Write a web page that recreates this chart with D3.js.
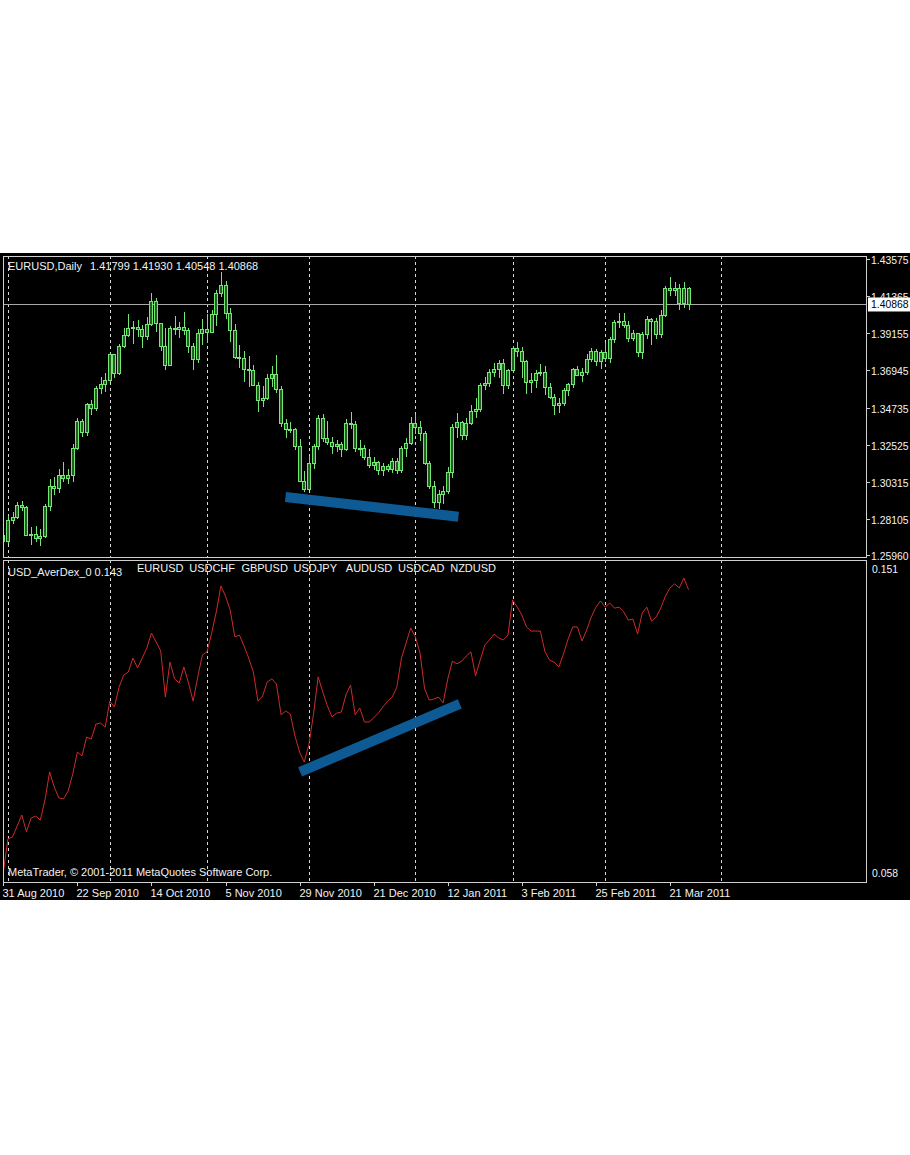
<!DOCTYPE html>
<html><head><meta charset="utf-8">
<script src="https://cdn.jsdelivr.net/npm/d3@7"></script>
<style>
body{margin:0;background:#fff}
svg{display:block}
text{font-family:"Liberation Sans",Arial,sans-serif;font-size:11px;fill:#f2f2f2}
text.ax{font-size:10.4px}
</style>
</head><body>
<svg id="c" width="910" height="1155"></svg>
<script>
// ---------- DATA ----------
const symbolTitle = "EURUSD,Daily";
const lastBarText = "1.41799 1.41930 1.40548 1.40868";
const indicatorTitle = "USD_AverDex_0 0.143";
const indicatorSymbols = ["EURUSD","USDCHF","GBPUSD","USDJPY","AUDUSD","USDCAD","NZDUSD"];
const copyright = "MetaTrader, © 2001-2011 MetaQuotes Software Corp.";

const xTickLabels = ["31 Aug 2010","22 Sep 2010","14 Oct 2010","5 Nov 2010","29 Nov 2010","21 Dec 2010","12 Jan 2011","3 Feb 2011","25 Feb 2011","21 Mar 2011"];
const xTickBars = [0,16,32,48,64,80,96,112,128,144];
const gridBars = [1,23,44,66,89,110,130,155];   // month separators (bar positions)
const priceTicks = [1.43575,1.41365,1.39155,1.36945,1.34735,1.32525,1.30315,1.28105,1.25960];
const priceRange = [1.25960,1.43575];
const indicatorRange = [0.058,0.151];
const lastPrice = 1.40868;

const open = [1.2712,1.2676,1.2801,1.2822,1.2890,1.2880,1.2715,1.2719,1.2692,1.2708,
1.2887,1.3004,1.2994,1.3071,1.3050,1.3067,1.3232,1.3389,1.3327,1.3490,
1.3469,1.3584,1.3612,1.3633,1.3789,1.3676,1.3837,1.3901,1.3946,1.3952,
1.3935,1.3899,1.3970,1.4105,1.3972,1.3838,1.3724,1.3942,1.3936,1.3949,
1.3934,1.3836,1.3757,1.3914,1.3939,1.3923,1.4030,1.4152,1.4202,1.4035,
1.3932,1.3773,1.3766,1.3700,1.3696,1.3605,1.3513,1.3525,1.3644,1.3668,
1.3579,1.3378,1.3345,1.3343,1.3239,1.3034,1.2987,1.3140,1.3240,1.3410,
1.3290,1.3265,1.3240,1.3252,1.3225,1.3377,1.3373,1.3227,1.3229,1.3179,
1.3130,1.3148,1.3098,1.3123,1.3103,1.3155,1.3100,1.3232,1.3262,1.3380,
1.3355,1.3317,1.3138,1.3002,1.2907,1.2959,1.2971,1.3089,1.3357,1.3382,
1.3307,1.3380,1.3448,1.3461,1.3606,1.3618,1.3683,1.3701,1.3733,1.3602,
1.3695,1.3826,1.3810,1.3745,1.3620,1.3637,1.3678,1.3680,1.3590,1.3535,
1.3488,1.3500,1.3574,1.3610,1.3701,1.3667,1.3683,1.3757,1.3805,1.3749,
1.3802,1.3765,1.3881,1.3979,1.3987,1.3964,1.3887,1.3912,1.3799,1.3908,
1.3997,1.3985,1.3906,1.4023,1.4182,1.4172,1.4181,1.4090,1.41799];
const high = [1.2750,1.2829,1.2853,1.2913,1.2918,1.2890,1.2760,1.2770,1.2750,1.2902,
1.3049,1.3062,1.3105,1.3147,1.3110,1.3256,1.3414,1.3406,1.3501,1.3519,
1.3604,1.3656,1.3680,1.3796,1.3795,1.3849,1.3945,1.4030,1.3987,1.3994,
1.3966,1.4015,1.4157,1.4126,1.3976,1.3945,1.3959,1.4018,1.3980,1.4045,
1.3947,1.3860,1.3938,1.3998,1.4031,1.4052,1.4174,1.4282,1.4229,1.4068,
1.3972,1.3845,1.3808,1.3782,1.3726,1.3625,1.3599,1.3674,1.3720,1.3785,
1.3604,1.3405,1.3388,1.3354,1.3287,1.3097,1.3185,1.3258,1.3432,1.3436,
1.3395,1.3300,1.3282,1.3268,1.3403,1.3448,1.3395,1.3283,1.3250,1.3224,
1.3178,1.3156,1.3141,1.3138,1.3172,1.3176,1.3245,1.3290,1.3419,1.3433,
1.3395,1.3336,1.3156,1.3034,1.2985,1.3005,1.3117,1.3375,1.3439,1.3395,
1.3413,1.3490,1.3530,1.3620,1.3655,1.3702,1.3740,1.3759,1.3760,1.3703,
1.3840,1.3862,1.3833,1.3758,1.3680,1.3695,1.3735,1.3720,1.3620,1.3552,
1.3530,1.3590,1.3620,1.3710,1.3720,1.3708,1.3790,1.3825,1.3819,1.3814,
1.3862,1.3892,1.3995,1.4035,1.4037,1.3990,1.3935,1.3917,1.3922,1.4016,
1.4008,1.4007,1.4052,1.4196,1.4249,1.4219,1.4207,1.4220,1.41930];
const low = [1.2659,1.2664,1.2780,1.2810,1.2856,1.2707,1.2656,1.2675,1.2647,1.2700,
1.2858,1.2954,1.2966,1.3031,1.3016,1.3033,1.3220,1.3296,1.3302,1.3431,
1.3452,1.3553,1.3567,1.3627,1.3652,1.3665,1.3826,1.3891,1.3850,1.3896,
1.3829,1.3875,1.3959,1.3925,1.3810,1.3698,1.3718,1.3903,1.3886,1.3905,
1.3798,1.3697,1.3740,1.3844,1.3860,1.3917,1.3961,1.4131,1.4001,1.3862,
1.3760,1.3707,1.3624,1.3597,1.3600,1.3446,1.3478,1.3520,1.3595,1.3563,
1.3360,1.3292,1.3320,1.3223,1.3031,1.2969,1.2985,1.3110,1.3223,1.3270,
1.3250,1.3200,1.3210,1.3180,1.3215,1.3344,1.3210,1.3186,1.3163,1.3114,
1.3100,1.3070,1.3069,1.3087,1.3082,1.3080,1.3085,1.3180,1.3250,1.3317,
1.3275,1.3129,1.2988,1.2873,1.2867,1.2900,1.2957,1.3052,1.3293,1.3280,
1.3279,1.3370,1.3410,1.3445,1.3580,1.3597,1.3653,1.3650,1.3555,1.3584,
1.3680,1.3776,1.3648,1.3555,1.3560,1.3590,1.3660,1.3546,1.3525,1.3430,
1.3440,1.3482,1.3540,1.3590,1.3660,1.3625,1.3665,1.3743,1.3720,1.3700,
1.3745,1.3740,1.3860,1.3945,1.3945,1.3862,1.3867,1.3772,1.3760,1.3883,
1.3845,1.3880,1.3890,1.4010,1.4140,1.4140,1.4055,1.4068,1.40548];
const close = [1.2676,1.2801,1.2822,1.2890,1.2880,1.2715,1.2719,1.2692,1.2708,1.2887,
1.3004,1.2994,1.3071,1.3050,1.3067,1.3232,1.3389,1.3327,1.3490,1.3469,
1.3584,1.3612,1.3633,1.3789,1.3676,1.3837,1.3901,1.3946,1.3952,1.3935,
1.3899,1.3970,1.4105,1.3972,1.3838,1.3724,1.3942,1.3936,1.3949,1.3934,
1.3836,1.3757,1.3914,1.3939,1.3923,1.4030,1.4152,1.4202,1.4035,1.3932,
1.3773,1.3766,1.3700,1.3696,1.3605,1.3513,1.3525,1.3644,1.3668,1.3579,
1.3378,1.3345,1.3343,1.3239,1.3034,1.2987,1.3140,1.3240,1.3410,1.3290,
1.3265,1.3240,1.3252,1.3225,1.3377,1.3373,1.3227,1.3229,1.3179,1.3130,
1.3148,1.3098,1.3123,1.3103,1.3155,1.3100,1.3232,1.3262,1.3380,1.3355,
1.3317,1.3138,1.3002,1.2907,1.2959,1.2971,1.3089,1.3357,1.3382,1.3307,
1.3380,1.3448,1.3461,1.3606,1.3618,1.3683,1.3701,1.3733,1.3602,1.3695,
1.3826,1.3810,1.3745,1.3620,1.3637,1.3678,1.3680,1.3590,1.3535,1.3488,
1.3500,1.3574,1.3610,1.3701,1.3667,1.3683,1.3757,1.3805,1.3749,1.3802,
1.3765,1.3881,1.3979,1.3987,1.3964,1.3887,1.3912,1.3799,1.3908,1.3997,
1.3985,1.3906,1.4023,1.4182,1.4172,1.4181,1.4090,1.4180,1.40868];
const averDex = [0.0606,0.0703,0.0709,0.0741,0.0773,0.0724,0.0764,0.0770,0.0758,0.0817,
0.0899,0.0855,0.0823,0.0820,0.0843,0.0893,0.0957,0.0946,0.1001,0.0995,
0.1039,0.1042,0.1030,0.1106,0.1089,0.1147,0.1182,0.1191,0.1232,0.1203,
0.1232,0.1261,0.1305,0.1279,0.1253,0.1118,0.1220,0.1171,0.1159,0.1206,
0.1159,0.1106,0.1177,0.1241,0.1250,0.1305,0.1367,0.1443,0.1413,0.1373,
0.1294,0.1299,0.1267,0.1232,0.1191,0.1106,0.1121,0.1162,0.1171,0.1156,
0.1066,0.1077,0.1068,0.1004,0.0957,0.0928,0.0978,0.1068,0.1177,0.1133,
0.1092,0.1060,0.1071,0.1074,0.1124,0.1153,0.1066,0.1086,0.1045,0.1045,
0.1057,0.1071,0.1089,0.1106,0.1118,0.1147,0.1232,0.1276,0.1320,0.1294,
0.1247,0.1142,0.1109,0.1112,0.1118,0.1101,0.1171,0.1223,0.1215,0.1223,
0.1238,0.1250,0.1180,0.1226,0.1270,0.1285,0.1302,0.1291,0.1285,0.1299,
0.1402,0.1381,0.1358,0.1323,0.1311,0.1311,0.1311,0.1250,0.1226,0.1220,
0.1206,0.1244,0.1288,0.1323,0.1323,0.1282,0.1314,0.1352,0.1381,0.1399,
0.1381,0.1393,0.1378,0.1381,0.1367,0.1343,0.1346,0.1302,0.1364,0.1381,
0.1340,0.1352,0.1378,0.1413,0.1437,0.1449,0.1437,0.1466,0.1432];
// hand-drawn trend annotations (bar position, value)
const trendPrice = [[60.95,1.2941],[98.3,1.2824]];
const trendIndicator = [[64.1,0.0899],[98.6,0.1098]];

// ---------- LAYOUT ----------
const L = 3, R = 866, T1 = 256, B1 = 557, T2 = 560, B2 = 882;
const svg = d3.select("#c");
svg.append("rect").attr("x",0).attr("y",253).attr("width",910).attr("height",647).attr("fill","#000");

const x = d3.scaleLinear().domain([0,144]).range([3.3,670]);
const yP = d3.scaleLinear().domain(priceRange).range([555,259]);
const yI = d3.scaleLinear().domain(indicatorRange).range([881,563]);

const defs = svg.append("defs");
defs.append("clipPath").attr("id","cp1").append("rect").attr("x",L).attr("y",T1).attr("width",R-L).attr("height",B1-T1);
defs.append("clipPath").attr("id","cp2").append("rect").attr("x",L).attr("y",T2).attr("width",R-L).attr("height",B2-T2);

// grid
const grid = svg.append("g").attr("stroke","#d8d8d8").attr("stroke-dasharray","3,3").attr("shape-rendering","crispEdges");
gridBars.forEach(b=>{
  const gx = Math.round(x(b))+0.5;
  grid.append("line").attr("x1",gx).attr("x2",gx).attr("y1",T1).attr("y2",B1);
  grid.append("line").attr("x1",gx).attr("x2",gx).attr("y1",T2).attr("y2",B2);
});

// current price line
svg.append("line").attr("x1",L).attr("x2",R).attr("y1",Math.round(yP(lastPrice))+0.5).attr("y2",Math.round(yP(lastPrice))+0.5)
  .attr("stroke","#a8a8a8").attr("shape-rendering","crispEdges");

// candles
const bars = d3.range(open.length).map(i=>({i,o:open[i],h:high[i],l:low[i],c:close[i]}));
const cg = svg.append("g").attr("clip-path","url(#cp1)").attr("shape-rendering","crispEdges");
const candleColor = "#72e872";
cg.selectAll("line.w").data(bars).join("line")
  .attr("x1",d=>Math.round(x(d.i))+0.5).attr("x2",d=>Math.round(x(d.i))+0.5)
  .attr("y1",d=>yP(d.h)).attr("y2",d=>yP(d.l)).attr("stroke",candleColor);
cg.selectAll("rect.b").data(bars).join("rect")
  .attr("x",d=>Math.round(x(d.i))-1.5).attr("width",3)
  .attr("y",d=>yP(Math.max(d.o,d.c))).attr("height",d=>Math.max(1,Math.abs(yP(d.o)-yP(d.c))))
  .attr("fill","#245c24").attr("stroke",candleColor).attr("stroke-width",1);

// indicator line
const line = d3.line().x((d,i)=>x(i)).y(d=>yI(d));
svg.append("g").attr("clip-path","url(#cp2)").append("path").datum(averDex)
  .attr("d",line).attr("fill","none").attr("stroke","#cc2b2b").attr("stroke-width",1);

// trend annotations
svg.append("line").attr("x1",x(trendPrice[0][0])).attr("y1",yP(trendPrice[0][1]))
  .attr("x2",x(trendPrice[1][0])).attr("y2",yP(trendPrice[1][1]))
  .attr("stroke","#0e5a94").attr("stroke-width",10);
svg.append("line").attr("x1",x(trendIndicator[0][0])).attr("y1",yI(trendIndicator[0][1]))
  .attr("x2",x(trendIndicator[1][0])).attr("y2",yI(trendIndicator[1][1]))
  .attr("stroke","#0e5a94").attr("stroke-width",10);

// panel borders
const border = svg.append("g").attr("fill","none").attr("stroke","#cfcfcf").attr("shape-rendering","crispEdges");
border.append("rect").attr("x",L+0.5).attr("y",T1+0.5).attr("width",R-L).attr("height",B1-T1);
border.append("rect").attr("x",L+0.5).attr("y",T2+0.5).attr("width",R-L).attr("height",B2-T2);

// price axis
const pa = svg.append("g");
priceTicks.forEach(t=>{
  const yy = Math.round(yP(t))+0.5;
  pa.append("line").attr("x1",R).attr("x2",R+4).attr("y1",yy).attr("y2",yy).attr("stroke","#cfcfcf");
  pa.append("text").attr("class","ax").attr("x",R+5).attr("y",yy+4).text(t.toFixed(5));
});
// last price box
const ly = yP(lastPrice);
svg.append("rect").attr("x",868).attr("y",ly-7).attr("width",42).attr("height",14).attr("fill","#fff");
svg.append("text").attr("class","ax").attr("x",871).attr("y",ly+4).style("fill","#000").text(lastPrice.toFixed(5));

// indicator axis
svg.append("text").attr("class","ax").attr("x",872).attr("y",yI(indicatorRange[1])+10).text(indicatorRange[1].toFixed(3));
svg.append("text").attr("class","ax").attr("x",872).attr("y",yI(indicatorRange[0])-4).text(indicatorRange[0].toFixed(3));

// time axis
xTickBars.forEach((b,k)=>{
  const tx = Math.round(x(b))+0.5;
  svg.append("line").attr("x1",tx).attr("x2",tx).attr("y1",B2).attr("y2",B2+4).attr("stroke","#cfcfcf");
  svg.append("text").attr("x",tx-1).attr("y",897).text(xTickLabels[k]);
});

// titles
svg.append("text").attr("x",8).attr("y",270).text(symbolTitle);
svg.append("text").attr("x",90).attr("y",270).text(lastBarText);
svg.append("text").attr("x",8).attr("y",576).text(indicatorTitle);
indicatorSymbols.forEach((s,k)=>{
  svg.append("text").attr("x",137+k*52.2).attr("y",572).text(s);
});
svg.append("text").attr("x",8).attr("y",876).text(copyright);
</script>
</body></html>
